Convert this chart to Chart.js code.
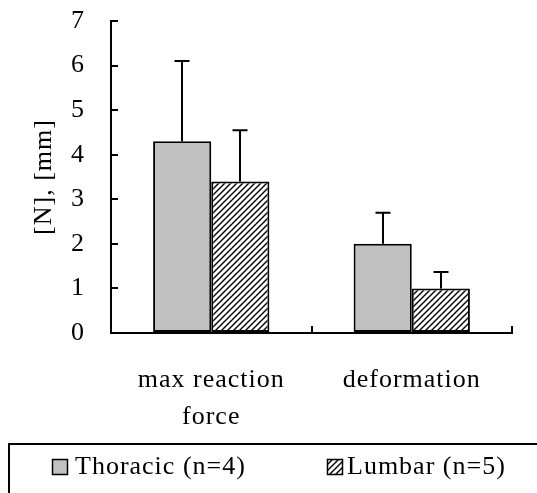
<!DOCTYPE html>
<html>
<head>
<meta charset="utf-8">
<script src="https://cdn.jsdelivr.net/npm/chart.js@4/dist/chart.umd.min.js"></script>
<style>
  html, body { margin: 0; padding: 0; background: #fff; }
  #wrap { width: 537px; height: 493px; position: relative; }
</style>
</head>
<body>
<div id="wrap"><canvas id="c"></canvas></div>
<script>
// ---- data ----
const categories = [['max reaction', 'force'], 'deformation'];
const seriesNames = ['Thoracic (n=4)', 'Lumbar (n=5)'];
const thoracicValues = [4.3, 2.0];
const thoracicErrors = [1.8, 0.7];
const lumbarValues = [3.4, 1.0];
const lumbarErrors = [1.15, 0.37];
const yTicks = [0, 1, 2, 3, 4, 5, 6, 7];

const FONT = "'Liberation Serif', 'Times New Roman', serif";

function makeHatch() {
  const s = 6;
  const c = document.createElement('canvas');
  c.width = s; c.height = s;
  const g = c.getContext('2d');
  g.fillStyle = '#fff';
  g.fillRect(0, 0, s, s);
  g.strokeStyle = '#000';
  g.lineWidth = 1.4;
  g.beginPath();
  g.moveTo(-1, s + 1); g.lineTo(s + 1, -1);
  g.moveTo(-1, 1); g.lineTo(1, -1);
  g.moveTo(s - 1, s + 1); g.lineTo(s + 1, s - 1);
  g.stroke();
  return g.createPattern(c, 'repeat');
}
const hatch = makeHatch();
const errorsByDataset = [thoracicErrors, lumbarErrors];

const spacing = {
  id: 'spacing',
  beforeDraw(chart) {
    if ('letterSpacing' in chart.ctx) chart.ctx.letterSpacing = '1px';
  }
};

const errorBars = {
  id: 'errorBars',
  afterDatasetsDraw(chart) {
    const ctx = chart.ctx;
    const yScale = chart.scales.y;
    ctx.save();
    ctx.strokeStyle = '#000';
    ctx.lineWidth = 2;
    chart.data.datasets.forEach((ds, di) => {
      const meta = chart.getDatasetMeta(di);
      meta.data.forEach((bar, i) => {
        const v = ds.data[i];
        const e = errorsByDataset[di][i];
        const yTop = yScale.getPixelForValue(v + e);
        const x = Math.round(bar.x);
        ctx.beginPath();
        ctx.moveTo(x, bar.y);
        ctx.lineTo(x, yTop);
        ctx.moveTo(x - 7.5, yTop);
        ctx.lineTo(x + 7.5, yTop);
        ctx.stroke();
      });
    });
    ctx.restore();
  }
};

const boxLegend = {
  id: 'boxLegend',
  afterDraw(chart) {
    const ctx = chart.ctx;
    ctx.save();
    ctx.strokeStyle = '#000';
    ctx.lineWidth = 2;
    ctx.strokeRect(9, 444, 600, 100);
    const items = [
      { x: 52, textX: 75 },
      { x: 327, textX: 347 }
    ];
    const cy = 467;
    ctx.font = '26px ' + FONT;
    ctx.textBaseline = 'middle';
    ctx.textAlign = 'left';
    chart.data.datasets.forEach((ds, i) => {
      const it = items[i];
      ctx.fillStyle = ds.backgroundColor;
      ctx.fillRect(it.x, cy - 8, 16, 16);
      ctx.lineWidth = 1.5;
      ctx.strokeRect(it.x + 0.5, cy - 7.5, 15, 15);
      ctx.fillStyle = '#000';
      ctx.fillText(ds.label, it.textX, cy);
    });
    ctx.restore();
  }
};

Chart.defaults.color = '#000';
Chart.defaults.font.family = FONT;

new Chart(document.getElementById('c'), {
  type: 'bar',
  data: {
    labels: categories,
    datasets: [
      {
        label: seriesNames[0],
        data: thoracicValues,
        backgroundColor: '#c0c0c0',
        borderColor: '#000',
        borderWidth: 2,
        borderSkipped: false
      },
      {
        label: seriesNames[1],
        data: lumbarValues,
        backgroundColor: hatch,
        borderColor: '#000',
        borderWidth: 2,
        borderSkipped: false
      }
    ]
  },
  options: {
    responsive: true,
    maintainAspectRatio: false,
    animation: false,
    layout: { padding: { left: 0, top: 21, right: 25, bottom: 0 } },
    datasets: { bar: { barPercentage: 1, categoryPercentage: 0.58 } },
    plugins: {
      legend: { display: false },
      tooltip: { enabled: false }
    },
    scales: {
      x: {
        grid: { drawOnChartArea: false, tickLength: -7, color: '#000', lineWidth: 2 },
        border: { color: '#000', width: 2 },
        ticks: { font: { size: 26, lineHeight: 1.42 }, padding: 36, maxRotation: 0, autoSkip: false },
        afterFit(scale) { scale.height = 160; }
      },
      y: {
        min: 0,
        max: 7,
        afterBuildTicks(scale) { scale.ticks = yTicks.map(v => ({ value: v })); },
        grid: { drawOnChartArea: false, tickLength: -7, color: '#000', lineWidth: 2 },
        border: { color: '#000', width: 2 },
        ticks: { font: { size: 26 }, padding: 33 },
        title: { display: true, text: '[N], [mm]', font: { size: 26 }, padding: { top: 29, bottom: 0 } },
        afterFit(scale) { scale.width = 111; scale.paddingTop = 0; scale.paddingBottom = 0; }
      }
    }
  },
  plugins: [spacing, errorBars, boxLegend]
});
</script>
</body>
</html>
